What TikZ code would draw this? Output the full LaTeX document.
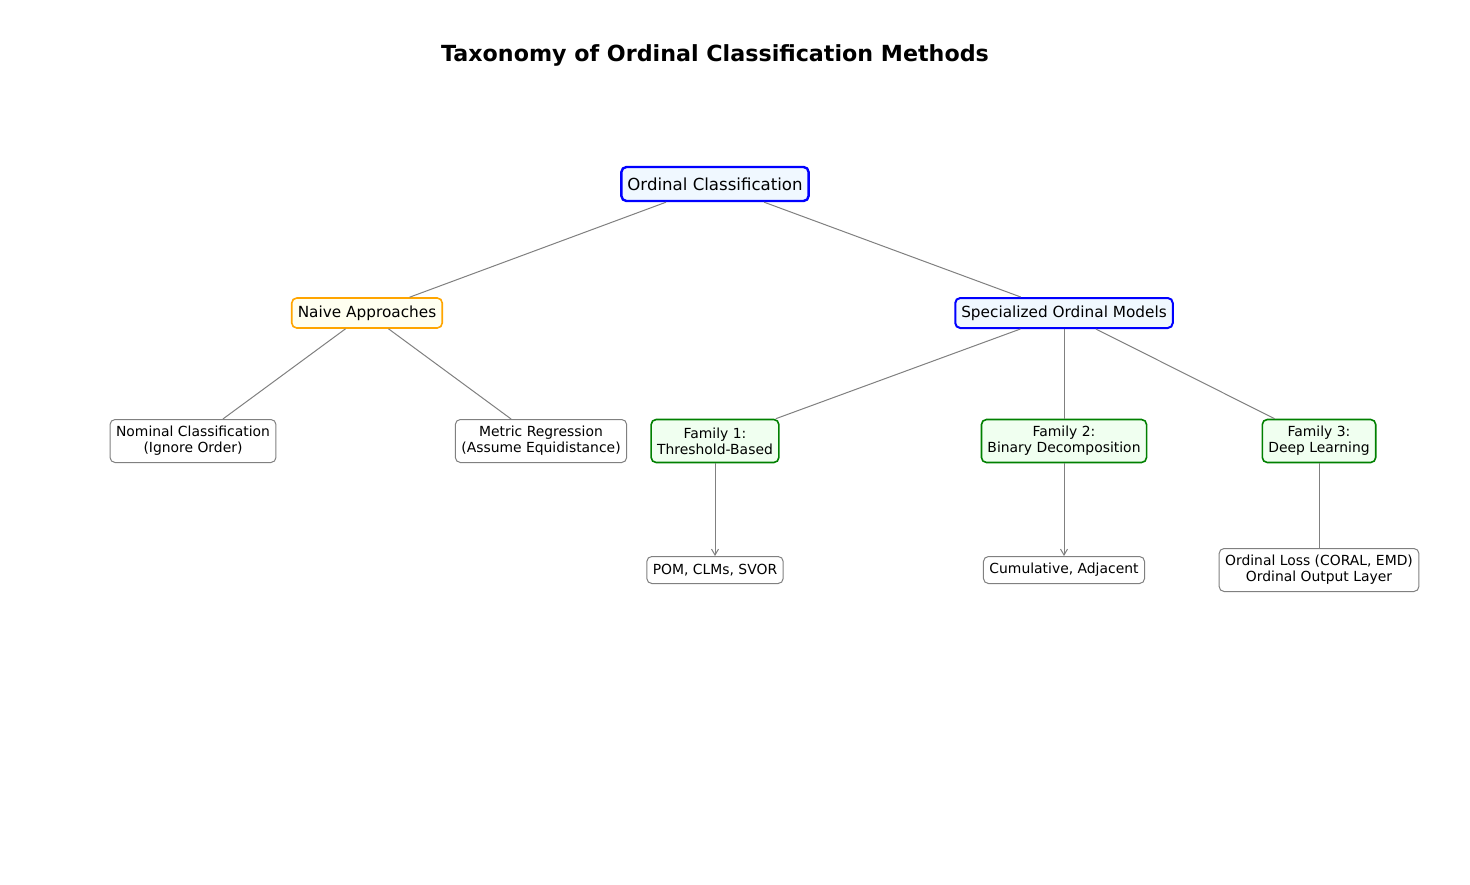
\documentclass[tikz,border=0pt]{standalone}
\usepackage{fontspec}
\setmainfont{DejaVu Sans}
\usepackage{xcolor}
\usetikzlibrary{
    positioning,
    arrows.meta,
}
\definecolor{aliceblue}{HTML}{F0F8FF}
\definecolor{honeydew}{HTML}{F0FFF0}
\definecolor{ivoryfill}{HTML}{FFFFF0}
\definecolor{orangeline}{HTML}{FFA500}
\definecolor{greenline}{HTML}{008000}
\definecolor{edgegray}{HTML}{808080}
\tikzset{
    % Box styles
    tbox/.style={rectangle, draw, rounded corners=5pt, align=center,
                 inner xsep=6pt, inner ysep=0pt},
    root box/.style={tbox, draw=blue, line width=2.4pt, fill=aliceblue,
                     font=\fontsize{16.6}{19}\selectfont, minimum height=34pt},
    spec box/.style={tbox, draw=blue, line width=2pt, fill=aliceblue,
                     font=\fontsize{15.3}{18}\selectfont, minimum height=30pt},
    naive box/.style={tbox, draw=orangeline, line width=1.6pt, fill=ivoryfill,
                      font=\fontsize{15.3}{18}\selectfont, minimum height=30pt},
    family box/.style={tbox, draw=greenline, line width=1.6pt, fill=honeydew,
                       font=\fontsize{13.9}{16.3}\selectfont, minimum height=43pt},
    leaf box/.style={tbox, draw=edgegray, line width=1pt, fill=white,
                     font=\fontsize{13.9}{16.3}\selectfont, minimum height=27pt},
    % Edge styles
    edge/.style={draw=edgegray, line width=1pt},
    arrow/.style={edge, -{Straight Barb[length=6pt, width=7pt]}},
}

\begin{document}
\begin{tikzpicture}[x=1pt, y=-1pt]
    \useasboundingbox[fill=white] (0,0) rectangle (1470,884);

    % Title
    \node[font=\fontsize{22.2}{26}\selectfont\bfseries] (title) at (715,55) {Taxonomy of Ordinal Classification Methods};

    % Boxes
    \node[root box] (root) at (715,184) {Ordinal Classification};
    \node[naive box] (naive) at (367,313) {Naive Approaches};
    \node[spec box] (spec) at (1064,313) {Specialized Ordinal Models};

    \node[leaf box, minimum height=43pt] (nominal) at (193,441) {Nominal Classification\\(Ignore Order)};
    \node[leaf box, minimum height=43pt] (metric) at (541,441) {Metric Regression\\(Assume Equidistance)};
    \node[family box] (fam1) at (715,441) {Family 1:\\Threshold-Based};
    \node[family box] (fam2) at (1064,441) {Family 2:\\Binary Decomposition};
    \node[family box] (fam3) at (1319,441) {Family 3:\\Deep Learning};

    \node[leaf box] (pom) at (715,570) {POM, CLMs, SVOR};
    \node[leaf box] (cumul) at (1064,570) {Cumulative, Adjacent};
    \node[leaf box, minimum height=43pt] (loss) at (1319,570) {Ordinal Loss (CORAL, EMD)\\Ordinal Output Layer};

    % Edges
    \draw[edge] (root) -- (naive);
    \draw[edge] (root) -- (spec);
    \draw[edge] (naive) -- (nominal);
    \draw[edge] (naive) -- (metric);
    \draw[edge] (spec) -- (fam1);
    \draw[edge] (spec) -- (fam2);
    \draw[edge] (spec) -- (fam3);
    \draw[arrow] (fam1) -- (pom);
    \draw[arrow] (fam2) -- (cumul);
    \draw[edge] (fam3) -- (loss);
\end{tikzpicture}
\end{document}
